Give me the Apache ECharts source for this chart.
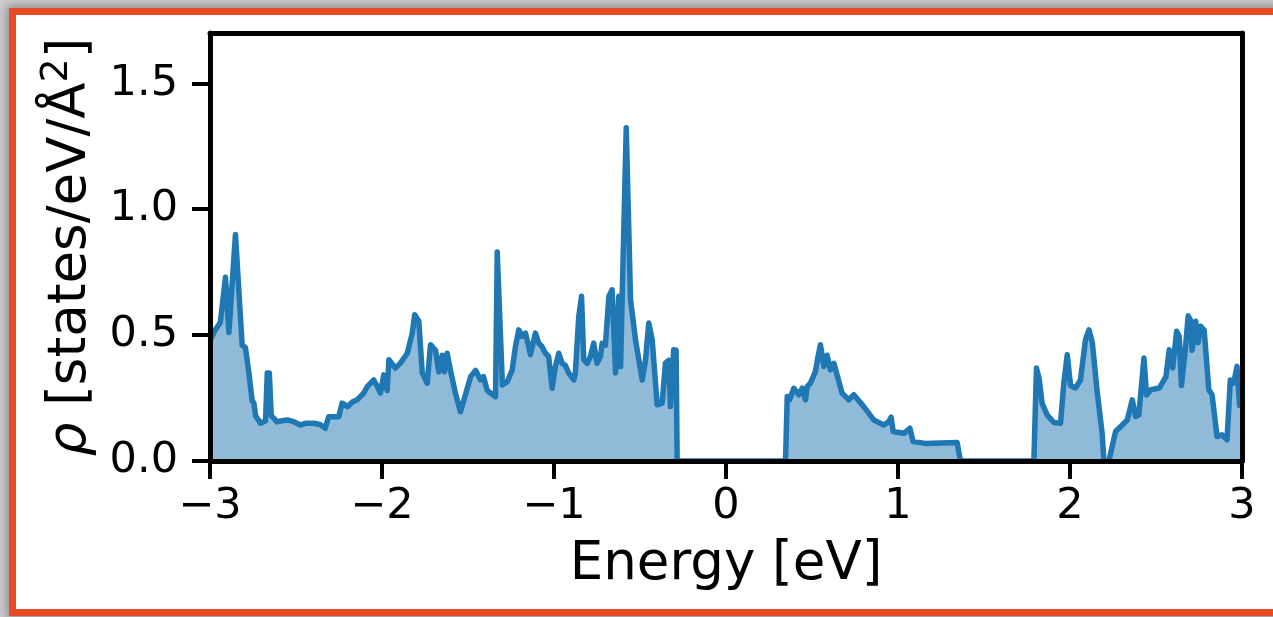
<!DOCTYPE html>
<html>
<head>
<meta charset="utf-8">
<script src="https://cdn.jsdelivr.net/npm/echarts@6/dist/echarts.min.js"></script>
<style>
html,body{margin:0;padding:0;background:#cfcfcf;overflow:hidden;}
#frame{position:absolute;left:9px;top:8px;width:1320px;height:608px;box-sizing:border-box;border:7px solid #e64c24;background:#fff;box-shadow:0 0 9px 3px rgba(0,0,0,0.3);}
#chart{position:absolute;left:0;top:0;width:1273px;height:617px;}
</style>
</head>
<body>
<div id="frame"></div>
<div id="chart"></div>
<script>
const energy = [-3.00,-2.97,-2.94,-2.91,-2.89,-2.852,-2.813,-2.794,-2.774,-2.755,-2.745,-2.735,-2.706,-2.677,-2.667,-2.655,-2.644,-2.61,-2.58,-2.551,-2.51,-2.474,-2.44,-2.397,-2.36,-2.33,-2.31,-2.251,-2.232,-2.20,-2.17,-2.144,-2.106,-2.086,-2.048,-2.03,-2.009,-1.99,-1.97,-1.96,-1.922,-1.892,-1.853,-1.824,-1.81,-1.786,-1.766,-1.737,-1.718,-1.689,-1.67,-1.65,-1.637,-1.621,-1.602,-1.573,-1.544,-1.515,-1.485,-1.456,-1.427,-1.41,-1.388,-1.34,-1.33,-1.321,-1.30,-1.272,-1.243,-1.224,-1.205,-1.185,-1.166,-1.147,-1.137,-1.108,-1.089,-1.07,-1.05,-1.031,-1.011,-0.992,-0.972,-0.953,-0.934,-0.914,-0.885,-0.876,-0.856,-0.84,-0.827,-0.807,-0.788,-0.769,-0.75,-0.73,-0.72,-0.701,-0.681,-0.662,-0.642,-0.623,-0.613,-0.604,-0.58,-0.555,-0.526,-0.487,-0.468,-0.449,-0.429,-0.42,-0.40,-0.371,-0.352,-0.333,-0.323,-0.304,-0.29,-0.284,0.346,0.356,0.37,0.394,0.423,0.443,0.462,0.472,0.491,0.52,0.535,0.549,0.569,0.588,0.607,0.627,0.646,0.675,0.714,0.743,0.801,0.859,0.917,0.946,0.96,0.972,1.034,1.069,1.088,1.16,1.344,1.363,1.79,1.805,1.82,1.838,1.867,1.906,1.945,1.964,1.984,2.003,2.032,2.061,2.09,2.11,2.13,2.158,2.187,2.197,2.226,2.265,2.304,2.333,2.362,2.381,2.40,2.43,2.445,2.47,2.52,2.558,2.577,2.597,2.62,2.635,2.648,2.67,2.687,2.70,2.71,2.731,2.744,2.76,2.78,2.807,2.826,2.855,2.884,2.913,2.932,2.952,2.971,2.986,3.0];
const dos = [0.48,0.52,0.55,0.73,0.51,0.90,0.46,0.45,0.35,0.24,0.23,0.18,0.15,0.16,0.35,0.35,0.18,0.156,0.16,0.163,0.155,0.143,0.15,0.15,0.145,0.13,0.176,0.176,0.23,0.216,0.235,0.243,0.27,0.295,0.322,0.30,0.27,0.342,0.28,0.402,0.369,0.39,0.428,0.508,0.581,0.555,0.35,0.309,0.462,0.44,0.354,0.42,0.354,0.428,0.36,0.269,0.196,0.263,0.335,0.36,0.322,0.335,0.28,0.255,0.83,0.83,0.302,0.315,0.362,0.455,0.521,0.495,0.508,0.455,0.422,0.508,0.468,0.455,0.428,0.415,0.289,0.375,0.428,0.388,0.38,0.349,0.322,0.35,0.574,0.654,0.402,0.388,0.415,0.468,0.388,0.415,0.468,0.46,0.654,0.68,0.35,0.654,0.375,0.64,1.324,0.64,0.481,0.322,0.40,0.548,0.481,0.40,0.223,0.23,0.389,0.40,0.216,0.442,0.44,0,0,0.256,0.243,0.289,0.263,0.289,0.243,0.295,0.309,0.355,0.415,0.462,0.375,0.42,0.362,0.388,0.342,0.269,0.243,0.263,0.216,0.163,0.143,0.156,0.174,0.117,0.11,0.13,0.077,0.07,0.073,0,0,0.369,0.33,0.229,0.183,0.153,0.15,0.309,0.422,0.30,0.29,0.322,0.481,0.521,0.47,0.275,0.11,0,0,0.117,0.143,0.163,0.243,0.177,0.183,0.409,0.262,0.283,0.29,0.335,0.442,0.37,0.515,0.495,0.30,0.44,0.577,0.56,0.44,0.555,0.47,0.535,0.52,0.283,0.263,0.097,0.104,0.084,0.322,0.31,0.376,0.22,0.26];
const xTicks = [-3,-2,-1,0,1,2,3];
const yTicks = [0.0,0.5,1.0,1.5];
const xTitle = 'Energy [eV]';

const points = energy.map((e,i)=>[e,dos[i]]);
const chart = echarts.init(document.getElementById('chart'), null, {renderer:'canvas'});
const FONT = 'DejaVu Sans';
const frameAxis = {axisLine:{show:true,onZero:false,lineStyle:{color:'#000',width:5}},axisTick:{show:false},axisLabel:{show:false},splitLine:{show:false}};
chart.setOption({
  animation:false,
  backgroundColor:'transparent',
  grid:{left:210,right:31,top:33,bottom:156},
  xAxis:[{
    type:'value',min:-3,max:3,interval:1,
    name:xTitle,nameLocation:'middle',nameGap:78,
    nameTextStyle:{fontFamily:FONT,fontSize:53,color:'#000'},
    axisLine:{show:true,onZero:false,lineStyle:{color:'#000',width:5}},
    axisTick:{show:true,length:18,lineStyle:{color:'#000',width:4}},
    axisLabel:{margin:24,fontFamily:FONT,fontSize:43,color:'#000',
      formatter:v=>xTicks.includes(v)?(v<0?'\u2212'+Math.abs(v):String(v)):''},
    splitLine:{show:false},z:5
  },Object.assign({type:'value',min:-3,max:3,position:'top',z:5},frameAxis)],
  yAxis:[{
    type:'value',min:0,max:1.7,interval:0.5,
    name:'{i|ρ}{t| [states/eV/Å}{s|2}{t|]}',nameLocation:'middle',nameGap:112,
    nameTextStyle:{fontFamily:FONT,fontSize:53,color:'#000',
      rich:{i:{fontFamily:FONT,fontStyle:'italic',fontSize:53,color:'#000',verticalAlign:'bottom'},
            t:{fontFamily:FONT,fontSize:53,color:'#000',verticalAlign:'bottom'},
            s:{fontFamily:FONT,fontSize:38,color:'#000',verticalAlign:'bottom',padding:[0,0,22,0]}}},
    axisLine:{show:true,onZero:false,lineStyle:{color:'#000',width:5}},
    axisTick:{show:true,length:18,lineStyle:{color:'#000',width:4}},
    axisLabel:{margin:32,fontFamily:FONT,fontSize:43,color:'#000',showMaxLabel:false,
      formatter:v=>yTicks.some(t=>Math.abs(t-v)<1e-9)?v.toFixed(1):''},
    splitLine:{show:false},z:5
  },Object.assign({type:'value',min:0,max:1.7,position:'right',z:5},frameAxis)],
  series:[{
    type:'line',data:points,symbol:'none',smooth:false,
    lineStyle:{color:'#1f77b4',width:5.5,join:'round'},
    areaStyle:{color:'#1f77b4',opacity:0.5,origin:'start'},
    z:1
  }]
});
</script>
</body>
</html>
